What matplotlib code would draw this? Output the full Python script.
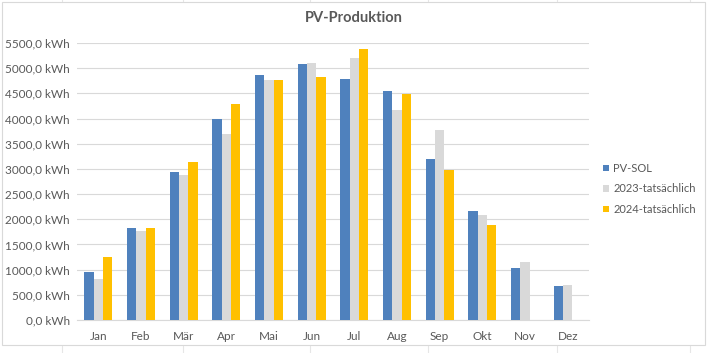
import matplotlib
matplotlib.use("Agg")
import matplotlib.pyplot as plt
import numpy as np
from matplotlib.ticker import FuncFormatter

months = ["Jan", "Feb", "Mär", "Apr", "Mai", "Jun", "Jul", "Aug", "Sep", "Okt", "Nov", "Dez"]
pv_sol = [950, 1827, 2943, 4000, 4857, 5076, 4777, 4538, 3203, 2166, 1030, 672]
y2023 = [811, 1768, 2884, 3701, 4757, 5096, 5196, 4179, 3781, 2087, 1150, 692]
y2024 = [1250, 1827, 3143, 4279, 4757, 4817, 5375, 4478, 2983, 1887, np.nan, np.nan]
series_names = ["PV-SOL", "2023-tatsächlich", "2024-tatsächlich"]
colors = ["#4F81BD", "#D9D9D9", "#FFC000"]

plt.rcParams['font.family'] = ['Lato', 'DejaVu Sans']
W, H = 711, 353
fig = plt.figure(figsize=(W / 100, H / 100), dpi=100)

# spreadsheet background lines
for xv in [62, 183, 310, 428, 557, 690]:
    fig.add_artist(plt.Line2D([xv / W, xv / W], [0, 1], color="#E6E6E6", lw=0.8, zorder=0))
fig.add_artist(plt.Rectangle((2 / W, 8 / H), 703 / W, (H - 10) / H, fill=True,
                             facecolor="white", edgecolor="#D9D9D9", lw=0.8, zorder=1))

ax = fig.add_axes([77 / W, (H - 320) / H, (589 - 77) / W, (320 - 43) / H], zorder=2)
x = np.arange(len(months))
bw = 0.22
for i, (vals, name, c) in enumerate(zip([pv_sol, y2023, y2024], series_names, colors)):
    ax.bar(x + (i - 1) * bw, vals, width=bw, color=c, label=name, zorder=3)

ax.set_xlim(-0.5, 11.5)
ax.set_ylim(0, 5500)
ax.set_yticks(np.arange(0, 5501, 500))
ax.yaxis.set_major_formatter(FuncFormatter(lambda v, p: f"{v:.1f}".replace(".", ",") + " kWh"))
ax.set_xticks(x)
ax.set_xticklabels(months)
ax.grid(axis="y", color="#D9D9D9", lw=0.8, zorder=0)
for s in ["top", "right", "left"]:
    ax.spines[s].set_visible(False)
ax.spines["bottom"].set_color("#D9D9D9")
ax.tick_params(axis="both", length=0, labelsize=8.5, colors="#595959")
ax.tick_params(axis="x", pad=8)
ax.tick_params(axis="y", pad=5)

fig.text(354 / W, 1 - 18 / H, "PV-Produktion", ha="center", va="center",
         fontsize=10.5, fontweight="bold", color="#595959")

leg = ax.legend(loc="center left", bbox_to_anchor=(600 / W, 1 - 189 / H),
                bbox_transform=fig.transFigure, frameon=False, fontsize=8,
                handlelength=0.55, handleheight=0.55, handletextpad=0.35, labelspacing=0.85,
                borderaxespad=0, borderpad=0.3)
for t in leg.get_texts():
    t.set_color("#595959")

fig.savefig("out.png", dpi=100)
